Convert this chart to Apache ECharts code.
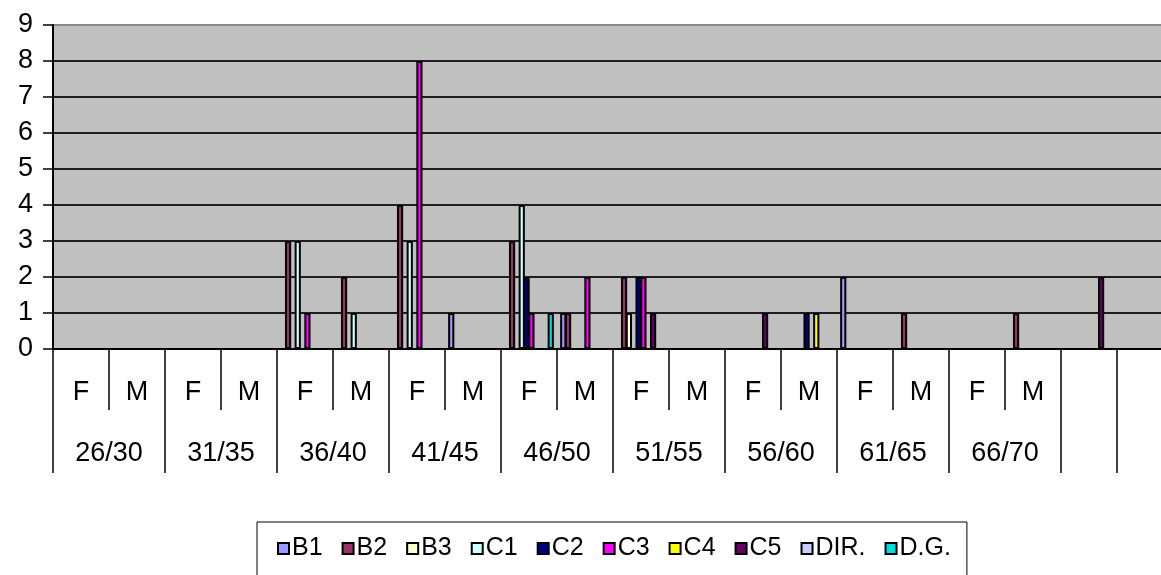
<!DOCTYPE html>
<html>
<head>
<meta charset="utf-8">
<script src="https://cdn.jsdelivr.net/npm/echarts@6/dist/echarts.min.js"></script>
<style>
html,body{margin:0;padding:0;background:#fff;overflow:hidden;}
#chart{width:1173px;height:575px;}
</style>
</head>
<body>
<div id="chart"></div>
<script>
// Categories (sex within age group); last two categories have no label
const sexLabels = ['F','M','F','M','F','M','F','M','F','M','F','M','F','M','F','M','F','M','',''];
const ageGroups = ['26/30','31/35','36/40','41/45','46/50','51/55','56/60','61/65','66/70'];
const seriesNames = ['B1','B2','B3','C1','C2','C3','C4','C5','DIR.','D.G.'];
const yTicks = [0,1,2,3,4,5,6,7,8,9];

// Values per series, one per category (20 categories)
const B1   = [0,0,0,0,0,0,0,1,0,1,0,0,0,0,2,0,0,0,0,0];
const B2   = [0,0,0,0,3,2,4,0,3,1,2,0,0,0,0,1,0,1,0,0];
const B3   = [0,0,0,0,0,0,0,0,0,0,1,0,0,0,0,0,0,0,0,0];
const C1   = [0,0,0,0,3,1,3,0,4,0,0,0,0,0,0,0,0,0,0,0];
const C2   = [0,0,0,0,0,0,0,0,2,0,2,0,0,1,0,0,0,0,0,0];
const C3   = [0,0,0,0,1,0,8,0,1,2,2,0,0,0,0,0,0,0,0,0];
const C4   = [0,0,0,0,0,0,0,0,0,0,0,0,0,1,0,0,0,0,0,0];
const C5   = [0,0,0,0,0,0,0,0,0,0,1,0,1,0,0,0,0,0,2,0];
const DIR  = [0,0,0,0,0,0,0,0,0,0,0,0,0,0,0,0,0,0,0,0];
const DG   = [0,0,0,0,0,0,0,0,1,0,0,0,0,0,0,0,0,0,0,0];
const seriesValues = [B1,B2,B3,C1,C2,C3,C4,C5,DIR,DG];

const colors = ['#9999FF','#993366','#FFFFCC','#CCFFFF','#000080','#FF00FF','#FFFF00','#660066','#CCCCFF','#00DDDD'];

// Secondary axis: half-category positions for group labels and group separators
const groupAxisData = [];
for (let i = 0; i <= sexLabels.length * 2; i++) {
  groupAxisData.push(i % 4 === 2 && (i - 2) / 4 < ageGroups.length ? ageGroups[(i - 2) / 4] : '');
}

const FONT = '"Liberation Sans", Arial, sans-serif';
const chart = echarts.init(document.getElementById('chart'), null, {renderer: 'canvas'});

const option = {
  animation: false,
  backgroundColor: '#ffffff',
  color: colors,
  legend: {
    data: seriesNames,
    left: 257,
    top: 522,
    padding: [14, 16, 20, 20],
    itemWidth: 11,
    itemHeight: 11,
    itemGap: 19,
    borderColor: '#000',
    borderWidth: 1,
    icon: 'rect',
    textStyle: {fontFamily: FONT, fontSize: 25, color: '#000', padding: [0,0,0,-2]}
  },
  grid: {
    left: 53, top: 25, right: 0, height: 324,
    show: true, backgroundColor: '#C0C0C0', borderColor: '#8a8a8a', borderWidth: 2,
    containLabel: false
  },
  xAxis: [
    {
      type: 'category',
      data: sexLabels,
      position: 'bottom',
      axisLine: {show: true, lineStyle: {color: '#000', width: 2}},
      axisTick: {show: true, interval: 0, length: 61, lineStyle: {color: '#000', width: 1.5}},
      axisLabel: {interval: 0, margin: 30, fontFamily: FONT, fontSize: 27, color: '#000'},
      splitLine: {show: false}
    },
    {
      type: 'category',
      data: groupAxisData,
      position: 'bottom',
      boundaryGap: false,
      axisLine: {show: false},
      axisTick: {
        show: true, length: 124,
        interval: function (index) { return index % 4 === 0 || index === 38; },
        lineStyle: {color: '#000', width: 1.5}
      },
      axisLabel: {
        margin: 91, fontFamily: FONT, fontSize: 27, color: '#000',
        interval: function (index) { return index % 4 === 2 && index < 36; }
      },
      splitLine: {show: false}
    }
  ],
  yAxis: {
    type: 'value',
    min: yTicks[0], max: yTicks[yTicks.length - 1], interval: 1,
    axisLine: {show: true, lineStyle: {color: '#000', width: 2}},
    axisTick: {show: true, length: 10, lineStyle: {color: '#000', width: 1.5}},
    axisLabel: {margin: 20, fontFamily: FONT, fontSize: 27, color: '#000'},
    splitLine: {show: true, showMaxLine: false, lineStyle: {color: '#1e1e1e', width: 2}}
  },
  series: seriesNames.map((name, i) => ({
    name: name,
    type: 'bar',
    xAxisIndex: 0,
    data: seriesValues[i],
    barWidth: 6.2,
    barGap: '-22%',
    itemStyle: {color: colors[i], borderColor: '#000', borderWidth: 2}
  }))
};
chart.setOption(option);
</script>
</body>
</html>
